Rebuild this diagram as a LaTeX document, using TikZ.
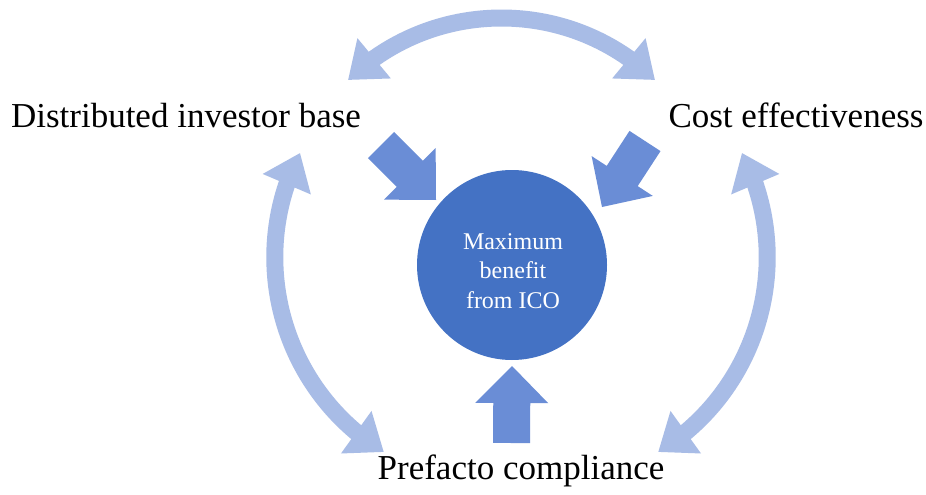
\documentclass[tikz,border=0pt]{standalone}
\usepackage{fontspec}
\setmainfont{Liberation Serif}
\usetikzlibrary{arrows.meta,bending,calc}
\definecolor{lightarc}{RGB}{168,188,230}
\definecolor{darkarr}{RGB}{106,141,214}
\definecolor{hubblue}{RGB}{68,114,196}
\newcommand\blockarr[3]{% #1 name, #2 tail, #3 tip
  \coordinate (#1base) at ($(#3)!37pt!(#2)$);
  \fill[darkarr] ($(#2)!18.5pt!90:(#3)$) -- ($(#1base)!18.5pt!90:(#3)$)
    -- ($(#1base)!36.5pt!90:(#3)$) -- (#3)
    -- ($(#1base)!36.5pt!-90:(#3)$) -- ($(#1base)!18.5pt!-90:(#3)$)
    -- ($(#2)!18.5pt!-90:(#3)$) -- cycle;}
\begin{document}
\begin{tikzpicture}[x=1pt,y=-1pt,
  arcarrow/.style={line width=17pt, draw=lightarc,
    {Triangle[length=34pt,width=50pt]}-{Triangle[length=34pt,width=50pt]}},
  lbl/.style={font=\fontsize{35}{42}\selectfont, anchor=base, inner sep=0pt},
  hubtxt/.style={font=\fontsize{24}{29.5}\selectfont, text=white, align=center, inner sep=0pt}]
\useasboundingbox (0,0) rectangle (926,495);
\fill[white] (0,0) rectangle (926,495);

% arcs
\coordinate (topc) at (501.5,239);
\coordinate (rightc) at (538.8,257.3);
\coordinate (leftc) at (503.2,257.3);
\draw[arcarrow] ([shift={(-134:221)}]topc) arc[start angle=-134, end angle=-46, radius=221];
\draw[arcarrow] ([shift={(-27.2:228.4)}]rightc) arc[start angle=-27.2, end angle=58.5, radius=228.4];
\draw[arcarrow] ([shift={(207.2:228.4)}]leftc) arc[start angle=207.2, end angle=121.5, radius=228.4];

% central circle
\node[circle, fill=hubblue, minimum size=190pt, inner sep=0pt] (hub) at (512,265) {};
\node[hubtxt] (hubtext) at (513,271) {Maximum\\benefit\\from ICO};

% block arrows
\coordinate (tlA) at (381,145); \coordinate (tlB) at (436,200);
\coordinate (trA) at (645,141); \coordinate (trB) at (602,207);
\coordinate (bA) at (511.5,443); \coordinate (bB) at (512,366);
\blockarr{tl}{tlA}{tlB}
\blockarr{tr}{trA}{trB}
\blockarr{bt}{bA}{bB}

% labels
\node[lbl] (dib) at (186,127) {Distributed investor base};
\node[lbl] (ce) at (796,127) {Cost effectiveness};
\node[lbl] (pc) at (521,479) {Prefacto compliance};
\end{tikzpicture}
\end{document}
